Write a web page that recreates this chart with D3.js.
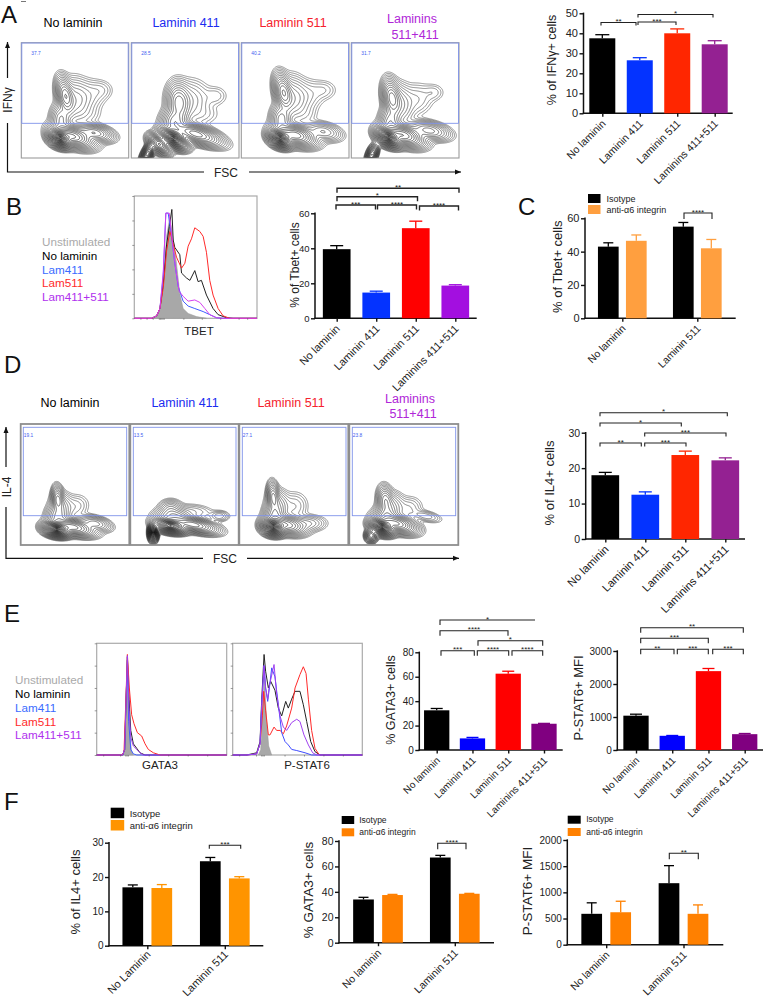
<!DOCTYPE html>
<html><head><meta charset="utf-8">
<script src="https://d3js.org/d3.v7.min.js"></script>
<style>
html,body{margin:0;background:#fff}
svg{display:block}
text{font-family:"Liberation Sans",Arial,sans-serif;fill:#222}
</style></head><body>
<svg id="fig" width="765" height="1000"></svg>
<script>
// ---------- DATA ----------
const barCats = ["No laminin","Laminin 411","Laminin 511","Laminins 411+511"];
const ifnMean = [37.5,26.5,40,34.5],  ifnTop = [39.3,27.8,42.2,36.3];
const tbetMean = [39.5,14.7,51.5,18.7], tbetTop = [41.5,15.5,55.5,19.2];
const il4Mean = [18,12.5,23.7,22.2],  il4Top = [18.8,13.3,24.8,22.9];
const gataMean = [32.5,9.5,62.5,21.5], gataTop = [34,10.3,64.5,21.8];
const pstatMean = [1040,430,2390,480], pstatTop = [1085,440,2470,500];

const groupCats = ["No laminin","Laminin 511"];
const groupCatsF1 = ["No Laminin","Laminin 511"];
const seriesNames = ["Isotype","anti-α6 integrin"];
const cIso = [43,55], cIsoTop = [45.3,57.5], cAnti = [46.5,42], cAntiTop = [50,47.3];
const f1Iso = [17,24.6], f1IsoTop = [17.7,25.7], f1Anti = [16.8,19.6], f1AntiTop = [17.8,20.1];
const f2Iso = [34,67], f2IsoTop = [35.7,68.7], f2Anti = [37.5,38.5], f2AntiTop = [38,38.8];
const f3Iso = [590,1175], f3IsoTop = [800,1510], f3Anti = [620,590], f3AntiTop = [830,760];

const plotTitles = ["No laminin","Laminin 411","Laminin 511"];
const legendNames = ["Unstimulated","No laminin","Lam411","Lam511","Lam411+511"];
const ifnGates = ["37.7","28.5","40.2","31.7"];
const il4Gates = ["19.1","13.5","27.1","23.8"];

// flow populations: [x, y, sdX, sdY, tilt, weight], x/y as frame fractions
const ifnPops = [
 [[.36,.83,.05,.032,-.35,1],[.48,.81,.09,.04,-.3,.45],[.68,.78,.08,.032,-.2,.16],[.41,.46,.035,.075,.25,.2],[.50,.50,.07,.09,.15,.05],[.62,.46,.08,.07,.2,.014],[.74,.41,.06,.045,0,.007],[.37,.66,.045,.06,0,.09],[.62,.62,.07,.05,0,.005]],
 [[.39,.83,.06,.032,-.45,1],[.60,.79,.11,.035,-.3,.3],[.15,.96,.02,.05,-.5,.45],[.26,.88,.05,.03,-.6,.5],[.44,.52,.05,.08,.1,.13],[.54,.5,.09,.085,.2,.024],[.78,.46,.06,.045,0,.006],[.40,.68,.055,.055,0,.12],[.65,.62,.09,.05,0,.005]],
 [[.36,.83,.05,.032,-.35,1],[.50,.80,.09,.04,-.25,.4],[.76,.77,.08,.035,-.2,.06],[.39,.43,.037,.075,.25,.2],[.48,.48,.065,.09,.15,.05],[.60,.46,.08,.07,.2,.013],[.76,.41,.065,.045,0,.007],[.37,.66,.045,.06,0,.1],[.60,.62,.06,.05,0,.005]],
 [[.345,.82,.055,.032,-.4,1],[.48,.80,.09,.04,-.3,.42],[.72,.76,.09,.035,-.2,.1],[.19,.97,.02,.04,-.4,.35],[.375,.48,.038,.075,.2,.18],[.45,.53,.06,.085,.2,.045],[.60,.49,.08,.07,.2,.012],[.76,.43,.055,.04,0,.006],[.36,.68,.045,.06,0,.1]]
];
const il4Pops = [
 [[.33,.87,.055,.026,-.15,1],[.48,.85,.09,.03,-.2,.3],[.68,.82,.07,.027,-.2,.07],[.34,.62,.025,.05,.1,.12],[.37,.68,.05,.055,.15,.04],[.50,.68,.065,.05,.2,.01],[.34,.76,.05,.045,0,.08]],
 [[.37,.84,.065,.025,-.15,.9],[.21,.895,.018,.03,0,1],[.58,.83,.10,.027,-.2,.3],[.37,.70,.05,.035,0,.04],[.40,.76,.08,.033,0,.1],[.60,.72,.09,.03,-.1,.009],[.82,.76,.045,.022,0,.016]],
 [[.31,.85,.047,.03,-.15,1],[.43,.83,.08,.035,-.2,.26],[.62,.82,.08,.032,0,.03],[.31,.60,.025,.055,.1,.12],[.35,.67,.05,.06,.15,.05],[.50,.68,.065,.06,.2,.012],[.32,.75,.045,.045,0,.1]],
 [[.30,.85,.05,.028,-.25,1],[.43,.82,.085,.033,-.25,.35],[.20,.92,.024,.024,0,.25],[.33,.63,.033,.055,.15,.1],[.39,.68,.055,.055,.2,.04],[.54,.70,.065,.05,.2,.012],[.70,.76,.07,.022,-.2,.016],[.34,.75,.05,.045,0,.1]]
];

// histograms: [channel %, count % of frame height]
const tbetGray = [[14.1,0],[18.2,1.4],[20.9,8],[23.6,29],[26.3,67],[29,83],[31.7,64],[34.4,45],[37.1,20],[39.8,8],[43.9,4],[50.7,1.4],[58.8,0]];
const tbetBlack = [[0,0],[14.1,0],[18.2,2],[20.9,8],[23.6,28],[26.3,60],[28.5,75],[30.6,89],[31.7,64],[33,58],[37.1,52],[38.5,37],[42.5,33],[45.3,31],[49.3,39],[52,30],[54.7,31],[58.8,19],[64.2,8],[68.3,3],[75,.5],[80.5,0],[100,0]];
const tbetRed = [[0,0],[14.1,0],[18.2,2],[20.9,8],[23.6,25],[26.3,55],[29,71],[31.7,61],[34.4,50],[38.5,41],[41.2,45],[43.9,59],[46.6,65],[49.3,74],[53.4,71],[56.1,67],[58.8,54],[61.5,31],[64.2,19],[68.3,8],[72.4,2],[77.8,0],[100,0]];
const tbetBlue = [[0,0],[14.1,0],[18.2,2],[20.9,8],[23.6,35],[25.7,86],[27.6,86],[30.4,67],[33,45],[35.8,26],[39.8,14],[43.9,10],[49.3,8],[56.1,5.5],[61.5,3],[66.9,.5],[72.4,0],[100,0]];
const tbetMag = [[0,0],[14.1,0],[18.2,2],[20.9,8],[23.6,38],[25.7,86],[28.5,86],[31.2,61],[33.9,39],[36.6,22],[39.8,18],[43.9,14],[49.3,15],[53.4,13],[57.5,8],[61.5,3],[66.9,.5],[72.4,0],[100,0]];

const gataGray = [[20,0],[21.5,5],[22.6,40],[23.6,85],[24.6,60],[25.6,20],[26.7,4],[28.2,0]];
const gataBlack = [[0,0],[20,0],[21.5,5],[22.6,50],[23.6,88],[24.9,50],[26.2,22],[28.2,10],[30.8,6],[33.3,2],[37.2,0],[100,0]];
const gataBlue = [[0,0],[20,0],[21.5,5],[22.6,50],[23.6,85],[24.6,30],[26.2,5],[28.2,1],[30.8,0],[100,0]];
const gataRed = [[0,0],[19.5,0],[21,3],[22.3,45],[23.6,90],[25.1,60],[26.9,36],[28.7,28],[31.3,20],[34.6,17],[37.2,10],[39.7,5],[43.6,2],[48.7,0],[100,0]];
const gataPur = [[0,0],[20,0],[21.5,5],[22.6,50],[23.6,89],[24.9,40],[26.2,16],[28.2,8],[30.8,5],[33.3,2],[35.9,0],[100,0]];

const pstatGray = [[19.8,0],[21.6,5],[23.1,40],[24.4,70],[26.2,30],[27.8,8],[30.1,0]];
const pstatBlack = [[0,0],[10.8,0],[18.5,2],[21.1,12],[22.4,50],[24.2,90],[25.4,75],[27.5,60],[29.3,66],[32.6,58],[35.2,42],[37.8,35],[40.9,48],[42.9,42],[45.5,50],[48.1,57],[51.9,57],[54.5,45],[57.1,30],[60.2,12],[63.5,3],[67.4,0],[100,0]];
const pstatBlue = [[0,0],[10.8,0],[18.5,1],[21.1,10],[22.4,45],[24.2,80],[25.4,60],[27,48],[28.3,60],[30.1,78],[32.6,70],[35.2,45],[37.8,20],[40.4,12],[42.9,9],[45.5,5],[49.4,4],[55.8,2],[60.9,0],[100,0]];
const pstatRed = [[0,0],[10.8,0],[18.5,1],[21.1,10],[22.9,35],[23.9,57],[25.4,40],[27.5,18],[28.8,18],[31.9,25],[33.9,22],[36.5,22],[39.1,19],[41.6,26],[45.5,42],[48.1,60],[51.9,72],[54.5,79],[56.6,73],[58.4,50],[60.9,22],[63.5,6],[66.8,0],[100,0]];
const pstatPur = [[0,0],[10.8,0],[18.5,1],[21.1,10],[22.4,45],[24.2,80],[25.4,60],[27,50],[28.3,62],[31.9,81],[33.9,55],[36.5,35],[39.1,25],[41.6,22],[45.5,29],[49.4,32],[51.9,30],[55,18],[58.4,9],[61.7,2],[64.8,0],[100,0]];

// ---------- HELPERS ----------
const svg = d3.select("#fig");
const BLK="#000", BLU="#0433ff", RED="#ff2600", PUR="#942192";
function txt(x,y,s,o={}){
  const t = svg.append("text").attr("x",x).attr("y",y).text(s)
   .attr("font-size",o.size||12).attr("text-anchor",o.anchor||"middle").style("fill",o.color||"#222");
  if(o.rot!=null) t.attr("transform",`rotate(${o.rot} ${x} ${y})`);
  return t;
}
function styleAxis(g,w){
  g.selectAll("path.domain").remove();
  g.selectAll("line").attr("stroke","#111").attr("stroke-width",w||1.4);
}
function frameAxes(p){
  const y = d3.scaleLinear().domain([0,p.max]).range([p.y0,p.yTop]);
  const g = svg.append("g");
  const ya = g.append("g").attr("transform",`translate(${p.axX},0)`)
    .call(d3.axisLeft(y).tickValues(d3.range(0,p.max+1e-6,p.step)).tickFormat(d3.format("d")).tickSize(4).tickPadding(1.5));
  styleAxis(ya);
  ya.selectAll("text").attr("font-size",p.tickSize||11).style("fill","#222").style("font-family",'"Liberation Sans"');
  g.append("line").attr("x1",p.axX).attr("x2",p.axX).attr("y1",p.yTop-.7).attr("y2",p.y0+.7).attr("stroke","#111").attr("stroke-width",1.5);
  g.append("line").attr("x1",p.axX-.7).attr("x2",p.xEnd).attr("y1",p.y0).attr("y2",p.y0).attr("stroke","#111").attr("stroke-width",1.5);
  txt(p.labX,p.labY,p.label,{size:p.labSize||12.5,rot:-90});
  return {y,g};
}
function xTicks(g,x,cats,p){
  const xa = g.append("g").attr("transform",`translate(0,${p.y0})`)
    .call(d3.axisBottom(x).tickSize(3.5).tickFormat(""));
  styleAxis(xa);
  cats.forEach(c=>{
    const tx=x(c)+(p.labShift||4), ty=p.y0+(p.labDrop||11);
    txt(tx,ty,c,{size:p.catSize||10,anchor:"end",rot:-45,color:"#222"});
  });
}
function bar(g,x,w,y,y0,v,top,color,capW){
  g.append("rect").attr("x",x-w/2).attr("width",w).attr("y",y(v)).attr("height",y0-y(v)).attr("fill",color);
  g.append("line").attr("x1",x).attr("x2",x).attr("y1",y(v)).attr("y2",y(top)).attr("stroke",color).attr("stroke-width",1.3);
  g.append("line").attr("x1",x-capW/2).attr("x2",x+capW/2).attr("y1",y(top)).attr("y2",y(top)).attr("stroke",color).attr("stroke-width",1.3);
}
function brackets(list,drop,width){
  list.forEach(([s,x1,x2,yy,noRight])=>{
    const d = noRight ? `M${x1},${yy+drop}V${yy}H${x2}` : `M${x1},${yy+drop}V${yy}H${x2}V${yy+drop}`;
    svg.append("path").attr("d",d).attr("fill","none").attr("stroke","#222").attr("stroke-width",width||1.1);
    txt((x1+x2)/2,yy+1.5,s,{size:8});
  });
}
function barPanel(p){
  const {y,g}=frameAxes(p);
  const x=d3.scalePoint().domain(barCats).range(p.range);
  barCats.forEach((c,i)=>bar(g,x(c),p.w,y,p.y0,p.mean[i],p.top[i],p.colors[i],p.cap));
  xTicks(g,x,barCats,p);
  brackets(p.br,p.drop,p.brW);
}
function groupPanel(p){
  const {y,g}=frameAxes(p);
  const x=d3.scalePoint().domain(p.cats).range(p.range);
  p.cats.forEach((c,i)=>{
    bar(g,x(c)-p.off,p.w,y,p.y0,p.iso[i],p.isoTop[i],BLK,p.cap);
    bar(g,x(c)+p.off,p.w,y,p.y0,p.anti[i],p.antiTop[i],p.col2,p.cap);
  });
  xTicks(g,x,p.cats,p);
  brackets(p.br,p.drop);
  const L=p.leg;
  seriesNames.forEach((n,i)=>{
    const yy=L.y+i*L.dy;
    svg.append("rect").attr("x",L.x).attr("y",yy).attr("width",L.w).attr("height",L.h).attr("fill",i?p.col2:BLK);
    txt(L.x+L.w+L.gap,yy+L.h-1.5,n,{size:L.size,anchor:"start"});
  });
}
function contourFrame(fr,pops,gate,gateVal,opts){
  const w=fr.x1-fr.x0,h=fr.y1-fr.y0,res=3,n=Math.round(w*res),m=Math.round(h*res);
  const vals=new Float64Array(n*m);
  for(let j=0;j<m;j++)for(let i=0;i<n;i++){
    const fx=i/n,fy=j/m;let s=0;
    for(const [cx,cy,sx,sy,t,wt] of pops){
      const dx=fx-cx,dy=fy-cy, u=dx*Math.cos(t)-dy*Math.sin(t), v=dx*Math.sin(t)+dy*Math.cos(t);
      s+=wt*Math.exp(-.5*(u*u/(sx*sx)+v*v/(sy*sy)));
    }
    vals[j*n+i]=s;
  }
  const mx=d3.max(vals);
  // contour levels spaced so the rings sit about evenly apart, like probability contours
  const levels=d3.range(opts.levels).map(k=>{const q=opts.reach*(1-k/opts.levels);return mx*Math.exp(-.5*q*q);});
  const cs=d3.contours().size([n,m]).thresholds(levels)(vals);
  const path=d3.geoPath(d3.geoIdentity().scale(1/res));
  const id="c"+Math.round(fr.x0)+"_"+Math.round(fr.y0);
  svg.append("clipPath").attr("id",id).append("rect").attr("x",fr.x0).attr("y",fr.y0).attr("width",w).attr("height",h);
  const g=svg.append("g").attr("clip-path",`url(#${id})`).append("g").attr("transform",`translate(${fr.x0},${fr.y0})`);
  g.selectAll("path").data(cs).join("path").attr("d",path).attr("fill","none").attr("stroke","#111")
    .attr("stroke-width",(d,i)=>.42+.45*i/opts.levels);
  svg.append("rect").attr("x",fr.x0).attr("y",fr.y0).attr("width",w).attr("height",h).attr("fill","none")
    .attr("stroke",opts.frameColor).attr("stroke-width",opts.frameW);
  svg.append("rect").attr("x",gate.x0).attr("y",gate.y0).attr("width",gate.x1-gate.x0).attr("height",gate.y1-gate.y0)
    .attr("fill","none").attr("stroke","#7f93ea").attr("stroke-width",.9);
  txt(gate.lx,gate.ly,gateVal,{size:4.8,anchor:"start",color:"#3d5bf0"});
}
function arrowAxes(o){
  const s=svg.append("g").attr("stroke","#111").attr("stroke-width",1.2).attr("fill","none");
  s.append("path").attr("d",`M${o.x},${o.upTo}V${o.upFrom}M${o.x},${o.upBelow}V${o.yb}H${o.fscL}M${o.fscR},${o.yb}H${o.xEnd}`);
  svg.append("path").attr("d",`M${o.x-2.5},${o.upFrom+6}L${o.x},${o.upFrom}L${o.x+2.5},${o.upFrom+6}Z`).attr("fill","#111");
  svg.append("path").attr("d",`M${o.xEnd-6},${o.yb-2.5}L${o.xEnd},${o.yb}L${o.xEnd-6},${o.yb+2.5}Z`).attr("fill","#111");
  txt(o.fscX,o.yb+4.5,"FSC",{size:12});
  txt(o.x+4.5,o.labY,o.label,{size:12,rot:-90});
}
function hist(fr,gray,curves,ticks){
  const x=d3.scaleLinear().domain([0,100]).range([fr.x0,fr.x1]);
  const y=d3.scaleLinear().domain([0,100]).range([fr.y1,fr.y0]);
  svg.append("rect").attr("x",fr.x0).attr("y",fr.y0).attr("width",fr.x1-fr.x0).attr("height",fr.y1-fr.y0)
    .attr("fill","none").attr("stroke","#aaa").attr("stroke-width",1.2);
  const area=d3.area().x(d=>x(d[0])).y0(fr.y1).y1(d=>y(d[1]));
  const line=d3.line().x(d=>x(d[0])).y(d=>y(d[1]));
  svg.append("path").attr("d",area(gray)).attr("fill","#a8a8a8").attr("stroke","#999").attr("stroke-width",.5);
  curves.forEach(([d,c])=>svg.append("path").attr("d",line(d)).attr("fill","none").attr("stroke",c).attr("stroke-width",1));
  const ya=svg.append("g").attr("transform",`translate(${fr.x0},0)`).call(d3.axisLeft(y).tickValues([0,20,40,60,80,100]).tickSize(2).tickFormat(""));
  ya.selectAll("path.domain").remove(); ya.selectAll("line").attr("stroke","#555").attr("stroke-width",.6);
  const xa=svg.append("g").attr("transform",`translate(0,${fr.y1})`).call(d3.axisBottom(x).tickValues(ticks).tickSize(1.5).tickFormat(""));
  xa.selectAll("path.domain").remove(); xa.selectAll("line").attr("stroke","#555").attr("stroke-width",.6);
}
function histLegend(x,ys,size,cols){
  legendNames.forEach((n,i)=>txt(x,ys[i],n,{size,anchor:"start",color:cols[i]}));
}

// ---------- PANEL LETTERS ----------
[["A",1,23],["B",6,215],["C",518,215],["D",4,373],["E",4,622],["F",4,810]].forEach(([s,x,y])=>txt(x,y,s,{size:24,anchor:"start",color:"#111"}));
svg.append("line").attr("x1",21).attr("x2",26).attr("y1",1.5).attr("y2",1.5).attr("stroke","#777").attr("stroke-width",1);

// ---------- A ----------
const aTitleCols=["#000","#1a2cf0","#f5222d"];
const PURT="#b026d8";
[73,186,293].forEach((cx,i)=>txt(cx,27,plotTitles[i],{size:12.5,color:aTitleCols[i]}));
txt(412,23,"Laminins",{size:12.5,color:PURT}); txt(415,38.5,"511+411",{size:12.5,color:PURT});
const aX=[[21.3,128.7],[131.3,239],[241.3,349],[351.3,459]];
aX.forEach((xx,i)=>contourFrame({x0:xx[0],x1:xx[1],y0:42.7,y1:158},ifnPops[i],
  {x0:xx[0]+.5,x1:xx[1]-.5,y0:43,y1:123.3,lx:xx[0]+10,ly:55},ifnGates[i],
  {levels:24,reach:3.6,frameColor:"#9b9b9b",frameW:1.1}));
arrowAxes({x:7.5,upFrom:42,upTo:78,upBelow:123,yb:172,fscL:204,fscR:249,xEnd:461,fscX:226,labY:100,label:"IFNγ"});

barPanel({label:"% of IFNγ+ cells",labX:556,labY:60,axX:583.5,y0:113.3,yTop:13.3,max:50,step:10,xEnd:732.7,range:[602.3,714.7],w:26,cap:14,catSize:10.6,
  mean:ifnMean,top:ifnTop,colors:[BLK,BLU,RED,PUR],drop:3,
  br:[["**",601,636,22.5],["***",638,676,22],["*",638,713,14.5]]});

// ---------- B ----------
const legendCols=["#aaa","#000","#3a6cff","#ff2a2a","#b030ee"];
histLegend(42,[246,260,273.5,287,300.5],11.7,legendCols);
hist({x0:134.3,x1:257,y0:196,y1:318.3},tbetGray,[[tbetBlack,"#222"],[tbetBlue,"#3f5cff"],[tbetRed,"#ff2a2a"],[tbetMag,"#d63ff0"]],[5,10,15,20,21,22,23,24,40,55,70,85,92]);
txt(199,335,"TBET",{size:11.5});
barPanel({label:"% of Tbet+ cells",labX:299,labY:265,axX:315,y0:318.3,yTop:213.3,max:60,step:20,xEnd:476.7,range:[336.7,455.3],w:27.7,cap:13,
  mean:tbetMean,top:tbetTop,colors:[BLK,BLU,"#ff0000","#a30fe0"],drop:4.5,labSize:12,tickSize:9.5,catSize:11,brW:1.4,
  br:[["**",337,459,188.3],["*",337,417.5,196.7],["***",336,375.5,205],["****",377.5,416.5,205],["****",419.5,458.5,206]]});

// ---------- C ----------
groupPanel({cats:groupCats,label:"% of Tbet+ cells",labX:562,labY:266.7,axX:585,y0:318.3,yTop:218.3,max:60,step:20,xEnd:735.7,range:[622.3,697.3],off:14,w:20.7,cap:10,catSize:10.3,labSize:13,
  iso:cIso,isoTop:cIsoTop,anti:cAnti,antiTop:cAntiTop,col2:"#ff9f3f",drop:6,
  br:[["****",684,712,213]],leg:{x:588,y:194,w:12.5,h:9,dy:11,gap:6,size:9}});

// ---------- D ----------
[70,185,291].forEach((cx,i)=>txt(cx,407,plotTitles[i],{size:12.5,color:aTitleCols[i]}));
txt(410,403,"Laminins",{size:12.5,color:PURT}); txt(413,418,"511+411",{size:12.5,color:PURT});
const dX=[[20.7,129.3],[130.3,238.7],[239.3,348.3],[349.3,458.3]];
const dG=[[23.3,126.7],[133.3,236],[242.3,346],[352.3,455.7]];
dX.forEach((xx,i)=>contourFrame({x0:xx[0],x1:xx[1],y0:424,y1:545},il4Pops[i],
  {x0:dG[i][0],x1:dG[i][1],y0:427.3,y1:515.7,lx:dG[i][0]+.5,ly:436.5},il4Gates[i],
  {levels:24,reach:3.6,frameColor:"#8e8e8e",frameW:1.8}));
arrowAxes({x:6,upFrom:427,upTo:467,upBelow:507,yb:558.3,fscL:203,fscR:247,xEnd:459,fscX:225,labY:487,label:"IL-4"});

barPanel({label:"% of IL4+ cells",labX:554,labY:483,axX:585.7,y0:539,yTop:432.7,max:30,step:10,xEnd:745,range:[605.3,725.3],w:27.7,cap:13,catSize:11.2,labSize:13,tickSize:10.5,
  mean:il4Mean,top:il4Top,colors:[BLK,BLU,RED,PUR],drop:3.5,
  br:[["*",600,727.3,412.7],["*",600,681.3,423],["***",644.7,726,433],["**",600,641.3,443],["***",644.7,686,443]]});

// ---------- E ----------
histLegend(15,[684,698,712,726,739],11.7,legendCols);
hist({x0:96.7,x1:226.7,y0:643.3,y1:755},gataGray,[[gataBlack,"#222"],[gataBlue,"#3f5cff"],[gataRed,"#ff2a2a"],[gataPur,"#a040f0"]],[5,18,22,23,24,40,55,70,85]);
hist({x0:232.7,x1:362.3,y0:643.3,y1:755},pstatGray,[[pstatBlack,"#222"],[pstatRed,"#ff2a2a"],[pstatBlue,"#3f4cff"],[pstatPur,"#a040f0"]],[5,18,22,23,24,40,55,70,85]);
txt(160,769,"GATA3",{size:11.5}); txt(307,769,"P-STAT6",{size:11.5});
barPanel({label:"% GATA3+ cells",labX:395,labY:700,axX:419.3,y0:750,yTop:652.3,max:80,step:20,xEnd:562.7,range:[436.7,544],w:25.3,cap:12,catSize:10,labSize:12.5,tickSize:10,
  mean:gataMean,top:gataTop,colors:[BLK,"#0000ff","#ff0000","#800080"],drop:5,
  br:[["*",440,535,620,true],["****",440,508,630.7],["*",478,542.7,640.7],["***",441,474.3,650.7],["****",477.3,508.7,650.7],["****",512,542.7,650.7]]});
barPanel({label:"P-STAT6+ MFI",labX:583,labY:698,axX:617.3,y0:750,yTop:651,max:3000,step:1000,xEnd:763,range:[636,744.7],w:25.3,cap:12,catSize:10,labSize:13,tickSize:10,
  mean:pstatMean,top:pstatTop,colors:[BLK,"#0000ff","#ff0000","#800080"],drop:5,
  br:[["**",640.7,743.3,627.7],["***",640.7,708.3,638.3],["**",640.7,674,649.3],["***",677.3,708.3,649.3],["***",712.7,743.3,649.3]]});

// ---------- F ----------
groupPanel({cats:groupCatsF1,label:"% of IL4+ cells",labX:80,labY:892,axX:109,y0:945.7,yTop:842.7,max:30,step:10,xEnd:263.3,range:[147.3,224.8],off:14.5,w:20.7,cap:10,catSize:11,labDrop:9.5,labSize:13,tickSize:10,
  iso:f1Iso,isoTop:f1IsoTop,anti:f1Anti,antiTop:f1AntiTop,col2:"#ff9400",drop:3.5,
  br:[["***",209.3,240.7,845.3]],leg:{x:110.7,y:807.7,w:13.5,h:10.5,dy:12.3,gap:5.5,size:9.5}});
groupPanel({cats:groupCats,label:"% GATA3+ cells",labX:313,labY:890,axX:339,y0:942.7,yTop:841,max:80,step:20,xEnd:494,range:[378,454.8],off:14.5,w:20.7,cap:10,catSize:10.6,labSize:13.5,tickSize:10.5,
  iso:f2Iso,isoTop:f2IsoTop,anti:f2Anti,antiTop:f2AntiTop,col2:"#ff8000",drop:6,
  br:[["****",437.7,466,843.3]],leg:{x:341.7,y:816,w:12.5,h:8,dy:12.3,gap:5,size:8.5}});
groupPanel({cats:groupCats,label:"P-STAT6+ MFI",labX:532,labY:891,axX:567.3,y0:944.7,yTop:840,max:2000,step:500,xEnd:723.3,range:[606.2,683.5],off:14.5,w:20.7,cap:10,catSize:10.6,labSize:13.5,tickSize:10,
  iso:f3Iso,isoTop:f3IsoTop,anti:f3Anti,antiTop:f3AntiTop,col2:"#ff8000",drop:6,
  br:[["**",669.3,698.3,853.3]],leg:{x:567.7,y:815.7,w:13,h:8,dy:12.3,gap:5.5,size:8.5}});
</script>
</body></html>
